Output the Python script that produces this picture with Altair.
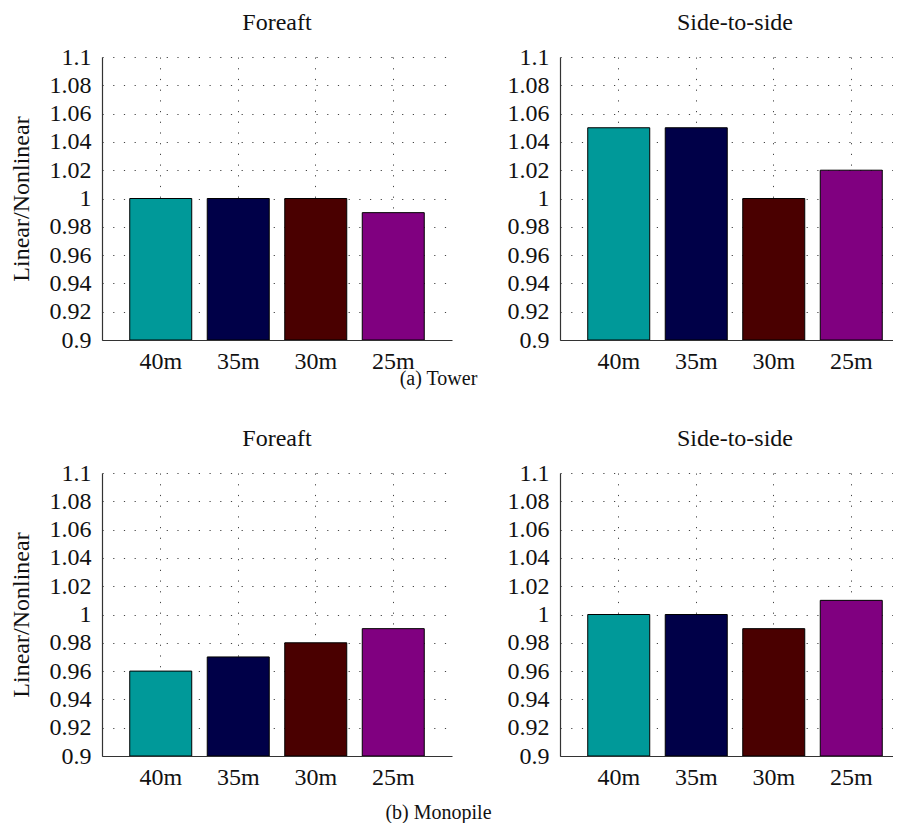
import altair as alt
import pandas as pd

FONT = "Liberation Serif"

sizes = ["40m", "35m", "30m", "25m"]
bar_colors = ["#009999", "#000048", "#4a0000", "#800080"]

tower_foreaft = [1.00, 1.00, 1.00, 0.99]
tower_side = [1.05, 1.05, 1.00, 1.02]
mono_foreaft = [0.96, 0.97, 0.98, 0.99]
mono_side = [1.00, 1.00, 0.99, 1.01]

y_ticks = [0.9, 0.92, 0.94, 0.96, 0.98, 1.0, 1.02, 1.04, 1.06, 1.08, 1.1]
y_min, y_max = 0.9, 1.1

PW, PH = 350, 283
FS = 24


def panel(vals, title, show_ytitle):
    df = pd.DataFrame({"size": sizes, "ratio": vals, "base": [y_min] * len(sizes)})
    yaxis = alt.Axis(
        values=y_ticks,
        format=".3~g",
        title="Linear/Nonlinear" if show_ytitle else "",
        titlePadding=16,
        labelFont=FONT,
        labelFontSize=FS,
        labelPadding=11,
        titleFont=FONT,
        titleFontSize=FS,
        titleFontWeight="normal",
    )
    return (
        alt.Chart(
            df,
            title=alt.TitleParams(
                title, fontSize=FS, font=FONT, fontWeight="normal",
                anchor="middle", frame="group", offset=10, color="#111",
            ),
        )
        .mark_bar(stroke="black", strokeWidth=1, clip=True)
        .encode(
            x=alt.X(
                "size:N",
                sort=sizes,
                scale=alt.Scale(paddingInner=0.2, paddingOuter=0.358),
                axis=alt.Axis(
                    title=None, labelAngle=0, labelPadding=9,
                    labelFont=FONT, labelFontSize=FS,
                ),
            ),
            y=alt.Y(
                "ratio:Q",
                scale=alt.Scale(domain=[y_min, y_max], zero=False, nice=False),
                axis=yaxis,
            ),
            y2=alt.Y2("base:Q"),
            color=alt.Color(
                "size:N",
                scale=alt.Scale(domain=sizes, range=bar_colors),
                legend=None,
            ),
        )
        .properties(width=PW, height=PH)
    )


def row(left_vals, right_vals, caption, cap_offset):
    return alt.hconcat(
        panel(left_vals, "Foreaft", True),
        panel(right_vals, "Side-to-side", False),
        spacing=108,
        bounds="flush",
    ).properties(
        title=alt.TitleParams(
            caption, orient="bottom", anchor="middle", fontSize=20,
            font=FONT, fontWeight="normal", offset=cap_offset, dx=-21,
            color="#111",
        )
    )


row_a = row(tower_foreaft, tower_side, "(a) Tower", -4)
row_b = row(mono_foreaft, mono_side, "(b) Monopile", 14)

chart = (
    alt.vconcat(row_a, row_b, spacing=38)
    .properties(padding={"left": 1, "top": 3, "right": -17, "bottom": 0})
    .configure(font=FONT)
    .configure_view(stroke=None)
    .configure_axis(
        labelFont=FONT,
        labelFontSize=FS,
        labelColor="#111",
        titleFont=FONT,
        titleFontSize=FS,
        titleFontWeight="normal",
        titleColor="#111",
        ticks=False,
        tickSize=0,
        domainColor="#333",
        domainWidth=1.2,
        grid=True,
        gridColor="#444",
        gridDash=[1.2, 9.5],
        gridWidth=1,
        gridOpacity=1,
    )
)

chart.save("out.html", embed_options={"renderer": "svg", "actions": False})
